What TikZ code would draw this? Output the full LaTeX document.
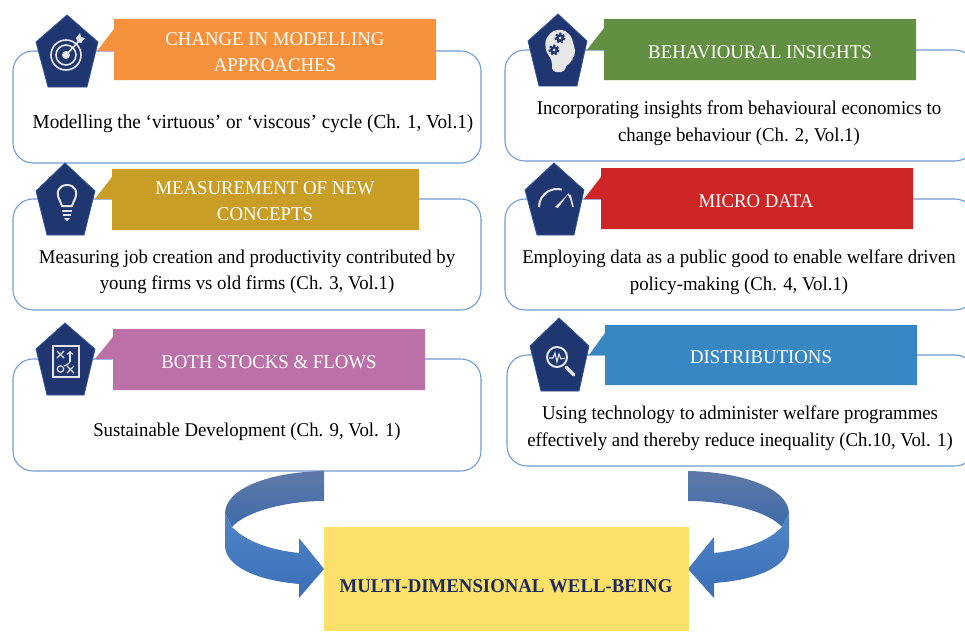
\documentclass[tikz,border=0pt]{standalone}
\usepackage{fontspec}
\setmainfont[FakeStretch=0.965]{Liberation Serif}
\definecolor{panelline}{HTML}{6F9BD3}
\definecolor{penta}{HTML}{1F3670}
\definecolor{pentaline}{HTML}{2F5597}
\definecolor{icon}{HTML}{E6E6E6}
\definecolor{cOrange}{HTML}{F6923D}
\definecolor{cGreen}{HTML}{638F42}
\definecolor{cGold}{HTML}{C99E27}
\definecolor{cRed}{HTML}{CE2527}
\definecolor{cPurple}{HTML}{BB70A8}
\definecolor{cBlue}{HTML}{3887C3}
\definecolor{cYellow}{HTML}{FBE06A}
\definecolor{cNavy}{HTML}{1F2A5C}
\definecolor{backtop}{HTML}{5F79A8}
\definecolor{backbot}{HTML}{3E6BA8}
\definecolor{fronttop}{HTML}{5085C6}
\definecolor{frontbot}{HTML}{3A6FB8}
\tikzset{
  panel/.style={draw=panelline,line width=0.8pt,fill=white,rounded corners=15pt},
  pentagon/.style={draw=pentaline,line width=0.6pt,fill=penta},
  bannertext/.style={text=white,align=center,font=\fontsize{14.6}{19.5}\selectfont},
  bodytext/.style={text=black,align=center,font=\fontsize{14.6}{20}\selectfont},
  iconline/.style={draw=icon,line width=1.2pt},
  backband/.style={top color=backtop,bottom color=backbot},
  frontband/.style={top color=fronttop,bottom color=frontbot},
  gear/.style={draw=penta,line width=1.5pt,dash pattern=on 1.6pt off 1.4pt},
}
\begin{document}
\begin{tikzpicture}[x=0.75pt,y=-0.75pt]
        \useasboundingbox (0,0) rectangle (965,632);
        % panels
        \filldraw[panel] (13,51) rectangle (481,163);
        \filldraw[panel] (505,50) rectangle (975,161);
        \filldraw[panel] (13,199) rectangle (481,310);
        \filldraw[panel] (505,199) rectangle (975,310);
        \filldraw[panel] (13,359) rectangle (481,471);
        \filldraw[panel] (507,355) rectangle (975,466);
        \draw(253,124)node[bodytext,font=\fontsize{14.9}{20}\selectfont](virtuous){Modelling the ‘virtuous’ or ‘viscous’ cycle (Ch. 1, Vol.1)};
        \draw(739,123)node[bodytext](insights){Incorporating insights from behavioural economics to\\change behaviour (Ch. 2, Vol.1)};
        \draw(247,272)node[bodytext](jobs){Measuring job creation and productivity contributed by\\young firms vs old firms (Ch. 3, Vol.1)};
        \draw(739,272)node[bodytext](welfare){Employing data as a public good to enable welfare driven\\policy-making (Ch. 4, Vol.1)};
        \draw(247,432)node[bodytext](sustain){Sustainable Development (Ch. 9, Vol. 1)};
        \draw(740,428)node[bodytext](inequal){Using technology to administer welfare programmes\\effectively and thereby reduce inequality (Ch.10, Vol. 1)};
        % banners
        \fill[cOrange] (97,51)--(114,29)--(114,19)--(436,19)--(436,80)--(114,80)--(114,51)--cycle;
        \fill[cGreen] (587,50)--(604,28)--(604,19)--(916,19)--(916,80)--(604,80)--(604,50)--cycle;
        \fill[cGold] (95,199)--(112,177)--(112,169)--(419,169)--(419,230)--(112,230)--(112,199)--cycle;
        \fill[cRed] (584,199)--(601,177)--(601,168)--(913,168)--(913,229)--(601,229)--(601,199)--cycle;
        \fill[cPurple] (95,359)--(113,337)--(113,329)--(425,329)--(425,390)--(113,390)--(113,359)--cycle;
        \fill[cBlue] (589,355)--(605,333)--(605,325)--(917,325)--(917,385)--(605,385)--(605,355)--cycle;
        \draw(275,52)node[bannertext](approach){CHANGE IN MODELLING\\APPROACHES};
        \draw(760,52)node[bannertext](behav){BEHAVIOURAL INSIGHTS};
        \draw(265,201)node[bannertext](concepts){MEASUREMENT OF NEW\\CONCEPTS};
        \draw(756,201)node[bannertext](micro){MICRO DATA};
        \draw(269,362)node[bannertext](stocks){BOTH STOCKS \& FLOWS};
        \draw(761,357)node[bannertext](distrib){DISTRIBUTIONS};
        % pentagons
        \filldraw[pentagon] (67,15)--(98,42)--(87,87)--(48,87)--(36,42)--cycle;
        \filldraw[pentagon] (558,14)--(587,41)--(577,86)--(539,86)--(528,41)--cycle;
        \filldraw[pentagon] (65,163)--(95,191)--(84,235)--(47,235)--(36,191)--cycle;
        \filldraw[pentagon] (554,163)--(584,190)--(574,235)--(537,235)--(525,190)--cycle;
        \filldraw[pentagon] (65,323)--(95,349)--(84,395)--(47,395)--(36,349)--cycle;
        \filldraw[pentagon] (559,318)--(589,346)--(579,391)--(541,391)--(530,346)--cycle;
        % target
        \draw[iconline] (66,55)circle[radius=15];
        \draw[iconline] (66,55)circle[radius=10];
        \fill[icon] (66,55)circle[radius=4];
        \draw[iconline] (66,55)--(80,40);
        \fill[icon] (76,38)--(80,33)--(81,37)--(85,38)--(81,43)--(78,42)--cycle;
        % head with gears
        \fill[icon,rounded corners=3pt] (552,72)--(552,60)--(546,52)--(545,40)--(552,31)--(562,29)--(571,35)--(574,46)--(576,54)--(572,57)--(572,63)--(566,64)--(565,72)--cycle;
        \fill[penta] (560,38)circle[radius=4];
        \draw[gear] (560,38)circle[radius=4.5];
        \fill[icon] (560,38)circle[radius=1.5];
        \fill[penta] (554,50)circle[radius=4];
        \draw[gear] (554,50)circle[radius=4.5];
        \fill[icon] (554,50)circle[radius=1.5];
        % bulb
        \draw[iconline,line width=1.5pt] (62,206)--(60,201) .. controls (55,192) and (59,185) .. (67,185) .. controls (75,185) and (79,192) .. (74,201)--(72,206)--cycle;
        \draw[iconline,line width=1.5pt] (62,211)--(72,211);
        \draw[iconline,line width=1.5pt] (63,215)--(71,215);
        \fill[icon] (64,218)--(70,218)--(67,221)--cycle;
        % gauge
        \draw[iconline,line width=1.5pt] (539,207) arc[start angle=180,end angle=285,radius=18];
        \draw[iconline] (568,194) arc[start angle=320,end angle=340,radius=18];
        \draw[iconline] (570,195)--(573,207);
        \fill[icon] (555,207)--(558,208)--(569,193)--cycle;
        % notebook
        \draw[iconline] (53,346) rectangle (79,377);
        \draw[iconline,line width=0.9pt] (57,351)--(64,358);
        \draw[iconline,line width=0.9pt] (64,351)--(57,358);
        \draw[iconline,line width=0.9pt,->] (70,362)--(70,351);
        \draw[iconline,line width=0.9pt] (70,362) .. controls (67,365) .. (64,366);
        \draw[iconline,line width=0.9pt] (60.5,369)circle[radius=3.2];
        \draw[iconline,line width=0.9pt] (67,366)--(74,373);
        \draw[iconline,line width=0.9pt] (74,366)--(67,373);
        % magnifier
        \draw[iconline,line width=1.5pt] (557,357)circle[radius=10];
        \draw[iconline,line width=2.6pt,line cap=round] (566,367)--(574,375);
        \draw[iconline,line width=0.8pt] (549,358)--(553,358)--(555,353)--(557,362)--(559,354)--(561,359)--(565,358);
        % bottom arrows
        \shade[backband] (324,471) .. controls (270,472) and (226,488) .. (225,513)--(232,527) .. controls (245,512) and (285,501) .. (324,501)--cycle;
        \shade[frontband] (225,513)--(232,527) .. controls (245,541) and (270,550) .. (299,553)--(299,538)--(324,569)--(299,598)--(299,584) .. controls (255,580) and (225,566) .. (225,545)--cycle;
        \shade[backband] (688,471) .. controls (742,472) and (788,488) .. (789,513)--(782,527) .. controls (769,512) and (728,501) .. (688,501)--cycle;
        \shade[frontband] (789,513)--(782,527) .. controls (769,541) and (743,550) .. (714,553)--(714,537)--(688,569)--(714,598)--(714,583) .. controls (758,580) and (789,566) .. (789,545)--cycle;
        % result box
        \fill[cYellow] (324,527) rectangle (689,631);
        \draw(506,586)node[text=cNavy,font=\fontsize{14.6}{20}\selectfont\bfseries](wellbeing){MULTI-DIMENSIONAL WELL-BEING};
\end{tikzpicture}
\end{document}
